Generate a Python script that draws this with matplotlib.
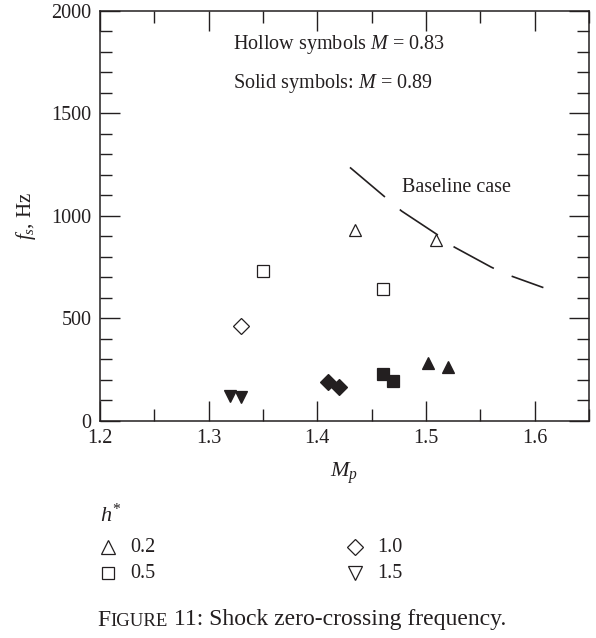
import matplotlib
matplotlib.use("Agg")
import matplotlib.pyplot as plt
from matplotlib.lines import Line2D
from matplotlib.ticker import MultipleLocator
from matplotlib.offsetbox import TextArea, HPacker, AnchoredOffsetbox

plt.rcParams["font.family"] = ["Liberation Serif", "DejaVu Serif"]
plt.rcParams["mathtext.fontset"] = "custom"
plt.rcParams["mathtext.rm"] = "Liberation Serif"
plt.rcParams["mathtext.it"] = "Liberation Serif:italic"
plt.rcParams["lines.scale_dashes"] = False

INK = "#231f20"

# Hollow symbols, M = 0.83
hollow_h02_mp = [1.435, 1.509]
hollow_h02_f = [930, 880]
hollow_h05_mp = [1.350, 1.460]
hollow_h05_f = [728, 640]
hollow_h10_mp = [1.330]
hollow_h10_f = [460]

# Solid symbols, M = 0.89
solid_h02_mp = [1.502, 1.520]
solid_h02_f = [280, 260]
solid_h05_mp = [1.460, 1.470]
solid_h05_f = [228, 192]
solid_h10_mp = [1.410, 1.420]
solid_h10_f = [187, 163]
solid_h15_mp = [1.320, 1.330]
solid_h15_f = [120, 115]

# Baseline case curve
baseline_mp = [1.430, 1.4775, 1.510, 1.526, 1.560, 1.574, 1.608]
baseline_f = [1236, 1023, 909, 847, 749, 714, 649]

h_labels = ["0.2", "0.5", "1.0", "1.5"]
x_ticks = [1.2, 1.3, 1.4, 1.5, 1.6]
y_ticks = [0, 500, 1000, 1500, 2000]

FS = 14.5

fig = plt.figure(figsize=(5.96, 6.38), dpi=100)
W, H = 596.0, 638.0
ax = fig.add_axes([0.1678, 0.3409, 0.8205, 0.6419])

ms = 9
mew = 0.9
ax.plot(baseline_mp, baseline_f, color=INK, lw=1.2, ls=(0, (33, 14)))

ax.plot(hollow_h02_mp, hollow_h02_f, ls="none", marker="^", ms=ms, mfc="white", mec=INK, mew=mew)
ax.plot(hollow_h05_mp, hollow_h05_f, ls="none", marker="s", ms=ms - 0.5, mfc="white", mec=INK, mew=mew)
ax.plot(hollow_h10_mp, hollow_h10_f, ls="none", marker="D", ms=ms - 1, mfc="white", mec=INK, mew=mew)

ax.plot(solid_h02_mp, solid_h02_f, ls="none", marker="^", ms=ms, mfc=INK, mec=INK, mew=mew)
ax.plot(solid_h05_mp, solid_h05_f, ls="none", marker="s", ms=ms - 0.5, mfc=INK, mec=INK, mew=mew)
ax.plot(solid_h10_mp, solid_h10_f, ls="none", marker="D", ms=ms - 1, mfc=INK, mec=INK, mew=mew)
ax.plot(solid_h15_mp, solid_h15_f, ls="none", marker="v", ms=ms, mfc=INK, mec=INK, mew=mew)

ax.set_xlim(1.2, 1.65)
ax.set_ylim(0, 2000)
ax.set_xticks(x_ticks)
ax.set_xticklabels([f"{t:.1f}" for t in x_ticks])
ax.set_yticks(y_ticks)
ax.set_yticklabels([str(t) for t in y_ticks])
ax.xaxis.set_minor_locator(MultipleLocator(0.05))
ax.yaxis.set_minor_locator(MultipleLocator(100))
ax.tick_params(which="both", direction="in", top=True, right=True, colors=INK,
               labelsize=FS, width=1.0)
ax.tick_params(which="major", length=14.5, pad=6)
ax.tick_params(which="minor", length=8.5)
for s in ax.spines.values():
    s.set_linewidth(1.1)
    s.set_color(INK)

ax.set_xlabel(r"$M_p$", fontsize=16, color=INK, labelpad=9)
ax.set_ylabel(r"$f_s$, Hz", fontsize=15, color=INK, labelpad=10)

ax.text(1.322, 1835, r"Hollow symbols $M$ = 0.83", fontsize=FS, color=INK, va="center")
ax.text(1.322, 1645, r"Solid symbols: $M$ = 0.89", fontsize=FS, color=INK, va="center")
ax.text(1.478, 1139, "Baseline case", fontsize=FS, color=INK, va="center")

# Symbol key for h*
fig.text(100 / W, 1 - 515 / H, r"$h^{*}$", fontsize=16, color=INK, va="center", ha="left")
key_markers = ["^", "s", "D", "v"]
key_sizes = [ms + 0.5, ms - 0.5, ms - 1, ms + 0.5]
key_cols = [108, 108, 355, 355]
key_rows = [547, 573, 547, 573]
for mk, sz, cx, cy, lab in zip(key_markers, key_sizes, key_cols, key_rows, h_labels):
    fig.add_artist(Line2D([cx / W], [1 - cy / H], transform=fig.transFigure, ls="none",
                          marker=mk, ms=sz, mfc="none", mec=INK, mew=mew))
    fig.text((cx + 22) / W, 1 - cy / H, lab, fontsize=FS, color=INK, va="center", ha="left")

# Figure caption with small-caps "Figure"
parts = [TextArea("F", textprops=dict(fontsize=17, color=INK)),
         TextArea("IGURE", textprops=dict(fontsize=13.5, color=INK)),
         TextArea(" 11: Shock zero-crossing frequency.", textprops=dict(fontsize=17, color=INK))]
cap = HPacker(children=parts, align="baseline", pad=0, sep=0)
anch = AnchoredOffsetbox(loc="center", child=cap, frameon=False,
                         bbox_to_anchor=(0.506, 1 - 620 / H), bbox_transform=fig.transFigure,
                         pad=0, borderpad=0)
fig.add_artist(anch)

fig.savefig("out.png", dpi=100, facecolor="white")
